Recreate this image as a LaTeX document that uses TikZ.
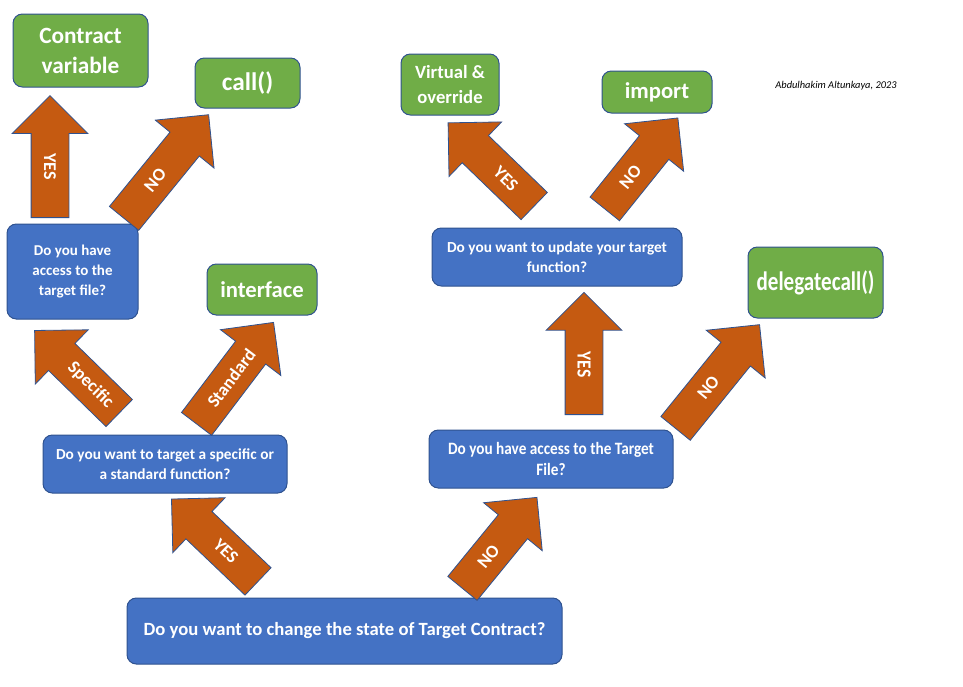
\documentclass[tikz,border=0pt]{standalone}
\usepackage{fontspec}
\setmainfont{Carlito}
\newfontfamily\condfont{Carlito}[FakeStretch=0.88]
\newfontfamily\narrowfont{Carlito}[FakeStretch=0.79]
\usetikzlibrary{shapes.arrows,calc}
\definecolor{boxblue}{HTML}{4472C4}
\definecolor{boxgreen}{HTML}{70AD47}
\definecolor{arrowbrown}{HTML}{C55A11}
\definecolor{edgeblue}{HTML}{2F528F}
\begin{document}
\begin{tikzpicture}[x=0.75pt,y=-0.75pt,
    question/.style={draw=edgeblue,fill=boxblue,line width=0.75pt,rounded corners=7pt,
        text=white,align=center,inner sep=2pt,font=\bfseries\fontsize{11.5}{15}\selectfont},
    answer/.style={draw=edgeblue,fill=boxgreen,line width=0.75pt,rounded corners=7pt,
        text=white,align=center,inner sep=2pt,font=\bfseries\fontsize{17}{22}\selectfont},
    fatarrow/.style={single arrow,draw=edgeblue,fill=arrowbrown,line width=0.6pt,anchor=tail,
        inner xsep=0pt,inner ysep=13.875pt,single arrow head extend=14.25pt,
        single arrow tip angle=90,minimum height=#1},
    arrowlabel/.style={text=white,inner sep=0pt,font=\bfseries\fontsize{13.5}{13.5}\selectfont}]
    \useasboundingbox (0,0) rectangle (963,686);

    % questions
    \node[question,minimum width=326.25pt,minimum height=49.5pt,font=\bfseries\fontsize{14}{17}\selectfont] (state) at (344.5,631) {Do you want to change the state of Target Contract?};
    \node[question,minimum width=183pt,minimum height=43.5pt] (kind) at (165,464) {Do you want to target a specific or\\a standard function?};
    \node[question,minimum width=183pt,minimum height=43.5pt,font=\condfont\bfseries\fontsize{13}{15.5}\selectfont] (fileB) at (551,459) {Do you have access to the Target\\File?};
    \node[question,minimum width=98.25pt,minimum height=71.25pt,font=\bfseries\fontsize{11.25}{15}\selectfont] (fileA) at (72.5,271.5) {Do you have\\access to the\\target file?};
    \node[question,minimum width=187.5pt,minimum height=43.5pt] (update) at (557,257) {Do you want to update your target\\function?};

    % answers
    \node[answer,minimum width=101.25pt,minimum height=54.75pt,font=\bfseries\fontsize{17.5}{22.5}\selectfont] (var) at (80.5,50.5) {Contract\\variable};
    \node[answer,minimum width=78.75pt,minimum height=37.5pt,font=\bfseries\fontsize{19}{22}\selectfont] (call) at (247.5,83) {call()};
    \node[answer,minimum width=82.5pt,minimum height=38.25pt] (iface) at (262,289.5) {interface};
    \node[answer,minimum width=73.5pt,minimum height=45.75pt,font=\bfseries\fontsize{14}{19}\selectfont] (virt) at (450,84.5) {Virtual \&\\override};
    \node[answer,minimum width=82.5pt,minimum height=31.5pt] (import) at (657,92) {import};
    \node[answer,minimum width=101.25pt,minimum height=53.25pt,font=\narrowfont\bfseries\fontsize{20}{24}\selectfont] (delegate) at (815.5,282.5) {delegatecall()};

    % block arrows
    \node[fatarrow=89.6pt,rotate=136.4] (stateyes) at (258.3,581.7) {};
    \node[fatarrow=88.2pt,rotate=50.7] (stateno) at (462.2,588.7) {};
    \node[fatarrow=88.65pt,rotate=135.7] (kindspec) at (119.5,413.3) {};
    \node[fatarrow=95.55pt,rotate=52.8] (kindstd) at (196.3,424.2) {};
    \node[fatarrow=91.5pt,rotate=90] (fileAyes) at (50,218) {};
    \node[fatarrow=100.35pt,rotate=50.8] (fileAno) at (123.8,218.7) {};
    \node[fatarrow=91.7pt,rotate=90] (fileByes) at (584,415) {};
    \node[fatarrow=100.1pt,rotate=51] (fileBno) at (675.3,428.7) {};
    \node[fatarrow=89.8pt,rotate=136] (updateyes) at (534.5,206.3) {};
    \node[fatarrow=87.5pt,rotate=51.2] (updateno) at (604.5,209.2) {};

    % arrow labels
    \node[arrowlabel,rotate=-43.6] at ($(stateyes.tail)!.37!(stateyes.tip)$) {YES};
    \node[arrowlabel,rotate=50.7] at ($(stateno.tail)!.35!(stateno.tip)$) {NO};
    \node[arrowlabel,rotate=-44.3] at ($(kindspec.tail)!.34!(kindspec.tip)$) {Specific};
    \node[arrowlabel,rotate=52.8] at ($(kindstd.tail)!.45!(kindstd.tip)$) {Standard};
    \node[arrowlabel,rotate=-90] at ($(fileAyes.tail)!.42!(fileAyes.tip)$) {YES};
    \node[arrowlabel,rotate=50.8] at ($(fileAno.tail)!.37!(fileAno.tip)$) {NO};
    \node[arrowlabel,rotate=-90,font=\condfont\bfseries\fontsize{15}{15}\selectfont] at ($(fileByes.tail)!.41!(fileByes.tip)$) {YES};
    \node[arrowlabel,rotate=51] at ($(fileBno.tail)!.39!(fileBno.tip)$) {NO};
    \node[arrowlabel,rotate=-44] at ($(updateyes.tail)!.33!(updateyes.tip)$) {YES};
    \node[arrowlabel,rotate=51.2] at ($(updateno.tail)!.35!(updateno.tip)$) {NO};

    % signature
    \node[font=\itshape\fontsize{7.8}{10}\selectfont,inner sep=0pt] (sign) at (836,86) {Abdulhakim Altunkaya, 2023};
\end{tikzpicture}
\end{document}
